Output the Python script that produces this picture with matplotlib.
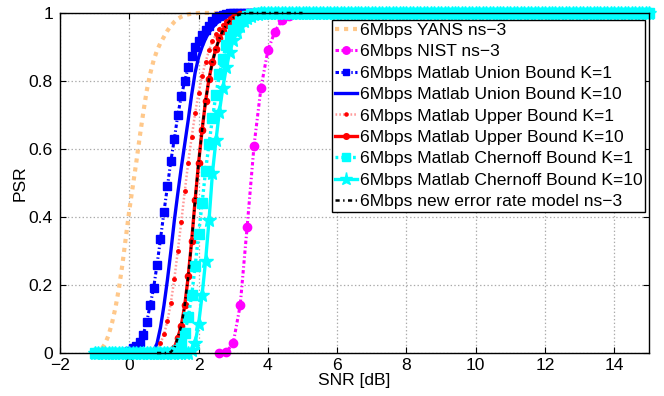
import numpy as np
import matplotlib
matplotlib.use('Agg')
import matplotlib.pyplot as plt
from matplotlib.ticker import FormatStrFormatter

plt.rcParams['font.family'] = ['Liberation Sans', 'DejaVu Sans']
plt.rcParams['font.size'] = 12.6
plt.rcParams['lines.scale_dashes'] = False

# SNR grid of the Matlab curves (dB)
snr = np.round(np.arange(-1.0, 15.0001, 0.1), 1)
# NIST points were taken every 0.2 dB
snr_nist = np.round(np.arange(2.6, 15.0001, 0.2), 1)
# new model only runs up to 5 dB
snr_new = np.round(np.arange(0.8, 5.0001, 0.1), 1)

yans_start, yans = -1.0, [0.0, 0.004, 0.012, 0.027, 0.052, 0.088, 0.133, 0.19, 0.26, 0.34,
                          0.42, 0.49, 0.56, 0.635, 0.705, 0.77, 0.82, 0.86, 0.89, 0.912,
                          0.93, 0.948, 0.962, 0.974, 0.983, 0.989, 0.993, 0.996, 0.998, 0.999]
nist = [0.0, 0.002, 0.03, 0.14, 0.37, 0.61, 0.78, 0.89, 0.945, 0.978, 0.99, 0.997]
union1_start, union1 = -0.1, [0.002, 0.006, 0.014, 0.022, 0.033, 0.053, 0.09, 0.14, 0.19, 0.26,
                              0.335, 0.415, 0.49, 0.565, 0.63, 0.70, 0.755, 0.80, 0.84, 0.873,
                              0.90, 0.918, 0.935, 0.95, 0.963, 0.975, 0.984, 0.991, 0.995, 0.998]
union10_start, union10 = 0.7, [0.006, 0.028, 0.075, 0.14, 0.215, 0.30, 0.39, 0.47, 0.545, 0.615,
                               0.685, 0.76, 0.825, 0.87, 0.90, 0.925, 0.943, 0.957, 0.968, 0.977,
                               0.985, 0.991, 0.995, 0.998]
upper1_start, upper1 = 0.8, [0.005, 0.028, 0.055, 0.093, 0.148, 0.218, 0.30, 0.386, 0.475, 0.56,
                             0.635, 0.705, 0.765, 0.815, 0.855, 0.89, 0.917, 0.937, 0.953, 0.966,
                             0.977, 0.985, 0.991, 0.995, 0.998]
upper10_start, upper10 = 1.2, [0.003, 0.015, 0.045, 0.08, 0.14, 0.225, 0.33, 0.45, 0.56, 0.655,
                               0.74, 0.806, 0.857, 0.895, 0.925, 0.948, 0.965, 0.977, 0.986, 0.992,
                               0.996, 0.998]
cher1_start, cher1 = 1.4, [0.01, 0.03, 0.06, 0.105, 0.17, 0.255, 0.35, 0.44, 0.535, 0.615,
                           0.69, 0.76, 0.82, 0.866, 0.905, 0.93, 0.95, 0.965, 0.977, 0.986,
                           0.992, 0.996, 0.998]
cher10_start, cher10 = 1.8, [0.008, 0.03, 0.085, 0.17, 0.27, 0.39, 0.53, 0.625, 0.71, 0.78,
                             0.84, 0.885, 0.92, 0.945, 0.963, 0.976, 0.986, 0.992, 0.996, 0.998]
# new error rate model lies on top of the upper bound K=10
new_start, new_model = 1.2, upper10

labels = ['6Mbps YANS ns\u22123', '6Mbps NIST ns\u22123',
          '6Mbps Matlab Union Bound K=1', '6Mbps Matlab Union Bound K=10',
          '6Mbps Matlab Upper Bound K=1', '6Mbps Matlab Upper Bound K=10',
          '6Mbps Matlab Chernoff Bound K=1', '6Mbps Matlab Chernoff Bound K=10',
          '6Mbps new error rate model ns\u22123']


def curve(grid, start, vals):
  i0 = int(np.argmin(np.abs(grid - start)))
  return np.array([0.0] * i0 + list(vals) + [1.0] * (len(grid) - i0 - len(vals)))


fig = plt.figure(figsize=(6.64, 3.96), dpi=100)
ax = fig.add_axes([0.0904, 0.1086, 0.887, 0.8586])

ax.plot(snr, curve(snr, yans_start, yans), color='#ffc88a', lw=3, dashes=(3, 3.5),
        label=labels[0], clip_on=False)
ax.plot(snr_nist, curve(snr_nist, 2.6, nist), color='#ff00ff', lw=2.2, dashes=(2.5, 1.8, 1, 1.8),
        marker='o', ms=6, label=labels[1], clip_on=False)
ax.plot(snr, curve(snr, union1_start, union1), color='#0000ff', lw=2.2, dashes=(2.5, 1.8, 1, 1.8),
        marker='s', ms=5.5, label=labels[2], clip_on=False)
ax.plot(snr, curve(snr, union10_start, union10), '-', color='#0000ff', lw=2.4, label=labels[3], clip_on=False)
ax.plot(snr, curve(snr, upper1_start, upper1), color='#ff9a9a', lw=1.8, dashes=(1.2, 1.5),
        marker='.', ms=5, mfc='#ff0000', mec='#ff0000', label=labels[4], clip_on=False)
ax.plot(snr, curve(snr, upper10_start, upper10), '-', color='#ff0000', lw=2.4, marker='o', ms=4.5,
        label=labels[5], clip_on=False)
ax.plot(snr, curve(snr, cher1_start, cher1), color='#00ffff', lw=2.4, dashes=(2, 2.2),
        marker='s', ms=6.5, label=labels[6], clip_on=False)
ax.plot(snr, curve(snr, cher10_start, cher10), '-', color='#00ffff', lw=2.4, marker='*', ms=10.5,
        label=labels[7], clip_on=False)
ax.plot(snr_new, curve(snr_new, new_start, new_model), color='black', lw=1.8, dashes=(3, 2.5, 1, 2.5),
        label=labels[8], clip_on=False)

ax.set_xlim(-2, 15)
ax.set_ylim(0, 1)
ax.set_xticks(np.arange(-2, 15, 2))
ax.set_yticks(np.arange(0, 1.01, 0.2))
ax.yaxis.set_major_formatter(FormatStrFormatter('%g'))
ax.grid(True, ls=':', color='#aaaaaa', lw=0.9)
ax.tick_params(direction='in', top=True, right=True, length=4, labelsize=12.6)
ax.tick_params(axis='y', pad=5)
for s in ax.spines.values():
  s.set_linewidth(1)
ax.set_xlabel('SNR [dB]', labelpad=0)
ax.set_ylabel('PSR', labelpad=1)

leg = ax.legend(loc='upper right', bbox_to_anchor=(0.993, 0.979), fontsize=12.6, handlelength=1.25,
                handletextpad=0.15, labelspacing=0.35, borderpad=0.15, borderaxespad=0,
                fancybox=False, framealpha=1, edgecolor='black', markerscale=0.9)
leg.get_frame().set_linewidth(1)

plt.savefig('out.png', dpi=100)
